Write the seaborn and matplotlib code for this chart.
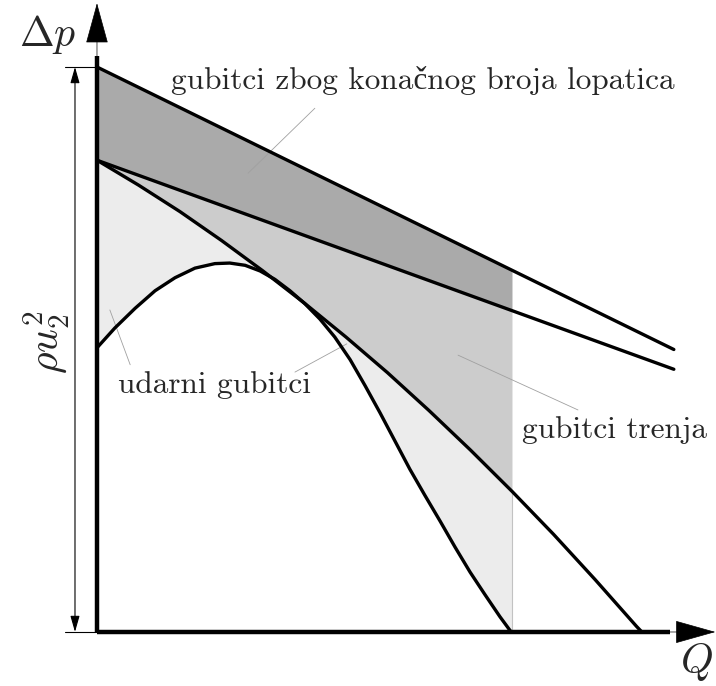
import numpy as np
import pandas as pd
import matplotlib
matplotlib.use("Agg")
import matplotlib.pyplot as plt
import seaborn as sns

# ---------------- data ----------------
# theoretical head with infinite number of blades (straight line)
q_line = [0.0, 13.9]
dp_inf = [10.0, 5.0]          # starts at rho*u2^2
# head with finite number of blades (straight line)
dp_fin = [8.35, 4.65]
# head after friction losses
q_fric = [0, 1, 2, 3, 4, 5, 6, 7, 8, 9, 10, 11, 12, 13, 13.13]
dp_fric = [8.35, 7.91, 7.44, 6.93, 6.39, 5.82, 5.22, 4.59, 3.92, 3.22,
           2.49, 1.73, 0.93, 0.10, 0.0]
# real characteristic (after shock losses)
q_real = [0.00, 0.43, 0.92, 1.40, 1.88, 2.36, 2.84, 3.20, 3.57, 3.93, 4.29,
          4.65, 5.01, 5.37, 5.73, 6.10, 6.46, 6.82, 7.18, 7.54, 7.90, 8.27,
          8.63, 8.99, 9.35, 9.71, 9.98]
dp_real = [5.03, 5.38, 5.73, 6.04, 6.27, 6.44, 6.52, 6.53, 6.49, 6.39, 6.24,
           6.04, 5.81, 5.54, 5.22, 4.82, 4.36, 3.88, 3.38, 2.88, 2.42, 1.96,
           1.50, 1.06, 0.66, 0.27, 0.00]
q_limit = 10.0                 # right edge of the shaded loss areas

labels = ["gubitci zbog konačnog broja lopatica", "udarni gubitci", "gubitci trenja"]
label_pos = [(7.86, 9.77), (2.84, 4.37), (12.48, 3.58)]
leaders = [((3.64, 5.25), (8.12, 9.27)),
           ((0.31, 0.80), (5.70, 4.73)),
           ((4.77, 6.02), (4.60, 5.10)),
           ((8.70, 11.59), (4.90, 3.93))]

# ---------------- figure ----------------
sns.set_theme(style="white")
plt.rcParams["mathtext.fontset"] = "cm"
serif = ["cmr10", "Liberation Serif"]

fig = plt.figure(figsize=(7.16, 6.86), dpi=100)
ax = fig.add_axes([0, 0, 1, 1])
ax.set_xlim(-2.337, 14.916)
ax.set_ylim(-0.956, 11.186)
ax.axis("off")

qg = np.linspace(0, q_limit, 600)
y_inf = np.interp(qg, q_line, dp_inf)
y_fin = np.interp(qg, q_line, dp_fin)
y_fric = np.interp(qg, q_fric, dp_fric)
y_real = np.interp(qg, q_real, dp_real)

ax.fill_between(qg, y_fin, y_inf, color="#aaaaaa", lw=0, zorder=1)
ax.fill_between(qg, y_fric, y_fin, color="#cccccc", lw=0, zorder=1)
ax.fill_between(qg, y_real, y_fric, color="#ececec", lw=0, zorder=1)
ax.plot([q_limit, q_limit], [0, y_fric[-1]], color="#c2c2c2", lw=0.8, zorder=1.5)

lw = 2.4
for qx, yy in [(q_line, dp_inf), (q_line, dp_fin), (q_fric, dp_fric), (q_real, dp_real)]:
    df = pd.DataFrame({"Q": qx, "dp": yy})
    sns.lineplot(data=df, x="Q", y="dp", ax=ax, color="black", lw=lw,
                 sort=False, estimator=None, zorder=3)

# leader lines
for (xs, ys) in leaders:
    ax.plot(xs, ys, color="#a0a0a0", lw=0.6, zorder=2)

# axes with arrows
ax.plot([0, 0], [0, 10.2], color="black", lw=3.2, zorder=4, solid_capstyle="butt")
ax.plot([0, 13.8], [0, 0], color="black", lw=3.2, zorder=4, solid_capstyle="butt")
ax.annotate("", xy=(0, 11.13), xytext=(0, 10.0), annotation_clip=False,
            arrowprops=dict(arrowstyle="-|>,head_length=1.35,head_width=0.37",
                            mutation_scale=20, color="black", lw=0.5,
                            shrinkA=0, shrinkB=0), zorder=5)
ax.annotate("", xy=(14.9, 0), xytext=(13.5, 0), annotation_clip=False,
            arrowprops=dict(arrowstyle="-|>,head_length=1.35,head_width=0.38",
                            mutation_scale=20, color="black", lw=0.5,
                            shrinkA=0, shrinkB=0), zorder=5)

# dimension rho*u2^2
ax.plot([-0.77, 0], [10.0, 10.0], color="black", lw=0.8)
ax.plot([-0.77, 0], [0.0, 0.0], color="black", lw=0.8)
ax.annotate("", xy=(-0.53, 10.0), xytext=(-0.53, 0.0),
            arrowprops=dict(arrowstyle="<|-|>,head_length=0.7,head_width=0.2",
                            mutation_scale=14, color="black", lw=0.8,
                            shrinkA=0, shrinkB=0))

ax.text(-1.2, 10.58, r"$\Delta p$", fontsize=30, ha="center", va="center")
ax.text(14.44, -0.53, r"$Q$", fontsize=30, ha="center", va="center")
ax.text(-1.22, 5.13, r"$\rho u_2^2$", fontsize=30, ha="center", va="center",
        rotation=90)

for txt, (x, y) in zip(labels, label_pos):
    ax.text(x, y, txt, fontsize=22.5, ha="center", va="center", family=serif)

fig.savefig("out.png", dpi=100)
